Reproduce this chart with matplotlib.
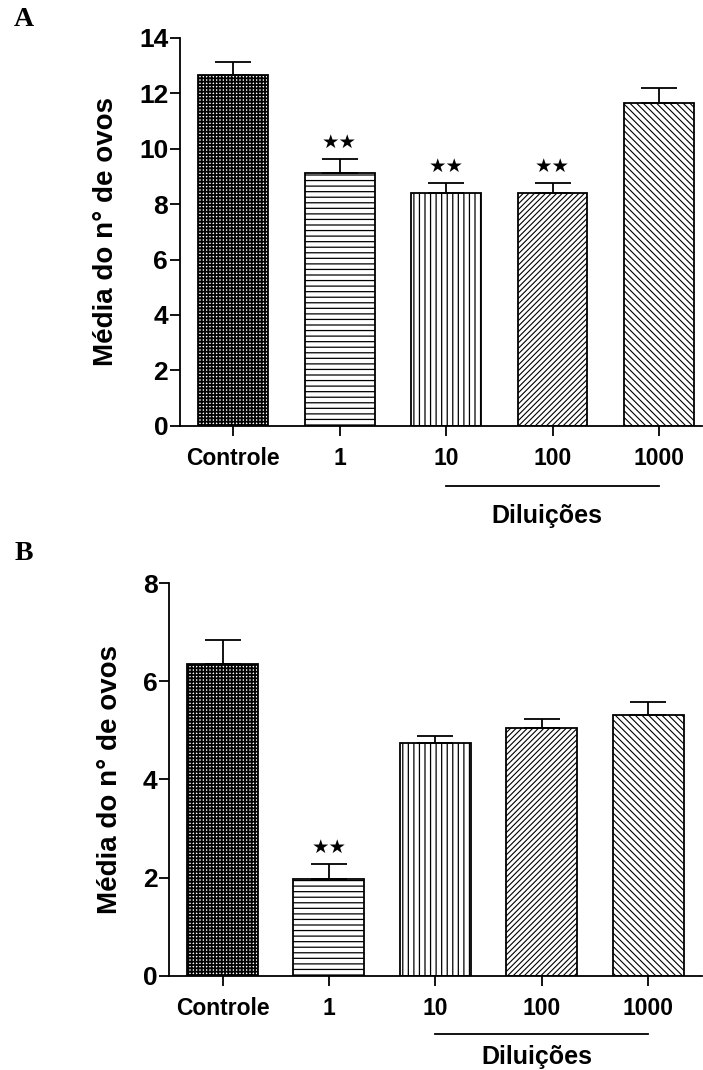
import numpy as np
import matplotlib.pyplot as plt

plt.rcParams['font.family'] = ['Liberation Sans', 'DejaVu Sans']
plt.rcParams['font.weight'] = 'bold'
plt.rcParams['hatch.linewidth'] = 0.8

# ---------------- DATA ----------------
groups = ["Controle", "1", "10", "100", "1000"]
hatches = ["+++++", "---", "|||", "//////", "\\\\\\\\\\"]
hatch_lw = [1.3, 0.9, 0.9, 0.8, 0.8]

mean_A = [12.66, 9.12, 8.39, 8.39, 11.64]
sem_A = [0.46, 0.52, 0.38, 0.38, 0.53]
sig_A = ["", "**", "**", "**", ""]

mean_B = [6.35, 1.97, 4.74, 5.04, 5.31]
sem_B = [0.49, 0.31, 0.15, 0.19, 0.26]
sig_B = ["", "**", "", "", ""]

ylabel = "Média do n° de ovos"
dil_label = "Diluições"


def panel(ax, means, sems, sig, ymax, width, xlim, line_y, text_y, ylab_x):
    x = np.arange(len(groups))
    bars = ax.bar(x, means, width=width, color="white", edgecolor="black",
                  linewidth=1.3, zorder=2)
    for b, h, hl in zip(bars, hatches, hatch_lw):
        b.set_hatch(h)
        if hasattr(b, "set_hatch_linewidth"):
            b.set_hatch_linewidth(hl)
    ax.errorbar(x, means, yerr=[np.zeros(len(x)), sems], fmt="none",
                ecolor="black", elinewidth=1.3, capsize=13, capthick=1.3, zorder=3)

    # significance marks above the error caps
    for xi, m, s, lab in zip(x, means, sems, sig):
        if lab:
            ax.annotate("\u2605\u2605", (xi, m + s), xytext=(0, 11.5),
                        textcoords="offset points", ha="center", va="center",
                        fontsize=14, family=["DejaVu Sans"])

    ax.set_xlim(*xlim)
    ax.set_ylim(0, ymax)
    ax.set_yticks(np.arange(0, ymax + 1, 2))
    ax.set_xticks(x)
    ax.set_xticklabels(groups, fontsize=16.5, fontweight="bold")
    ax.tick_params(axis="y", labelsize=19, length=7, width=1.3, pad=1.5)
    ax.tick_params(axis="x", length=7, width=1.3, pad=8)
    for sp in ["top", "right"]:
        ax.spines[sp].set_visible(False)
    for sp in ["left", "bottom"]:
        ax.spines[sp].set_linewidth(1.3)

    ax.set_ylabel(ylabel, fontsize=20, fontweight="bold", va="center")
    ax.yaxis.set_label_coords(ylab_x, 0.5)

    # bracket line under the dilution groups
    tr = ax.get_xaxis_transform()
    ax.plot([2, 4], [line_y, line_y], color="black", lw=1.3,
            transform=tr, clip_on=False)
    ax.text(2.95, text_y, dil_label, transform=tr, ha="center", va="center",
            fontsize=18, fontweight="bold")


fig = plt.figure(figsize=(7.03, 10.70), dpi=100)

axA = fig.add_axes([0.256, 0.602, 0.742, 0.3627])
panel(axA, mean_A, sem_A, sig_A, 14, 0.656, (-0.5, 4.40), -0.154, -0.231, -0.1415)

axB = fig.add_axes([0.2408, 0.0881, 0.7578, 0.3668])
panel(axB, mean_B, sem_B, sig_B, 8, 0.667, (-0.5, 4.505), -0.149, -0.207, -0.111)

fig.text(24 / 703, 1 - 20 / 1070, "A", family=["Liberation Serif"],
         fontweight="bold", fontsize=20, ha="center", va="center")
fig.text(23.5 / 703, 1 - 553 / 1070, "B", family=["Liberation Serif"],
         fontweight="bold", fontsize=20, ha="center", va="center")

fig.savefig("out.png", dpi=100)
